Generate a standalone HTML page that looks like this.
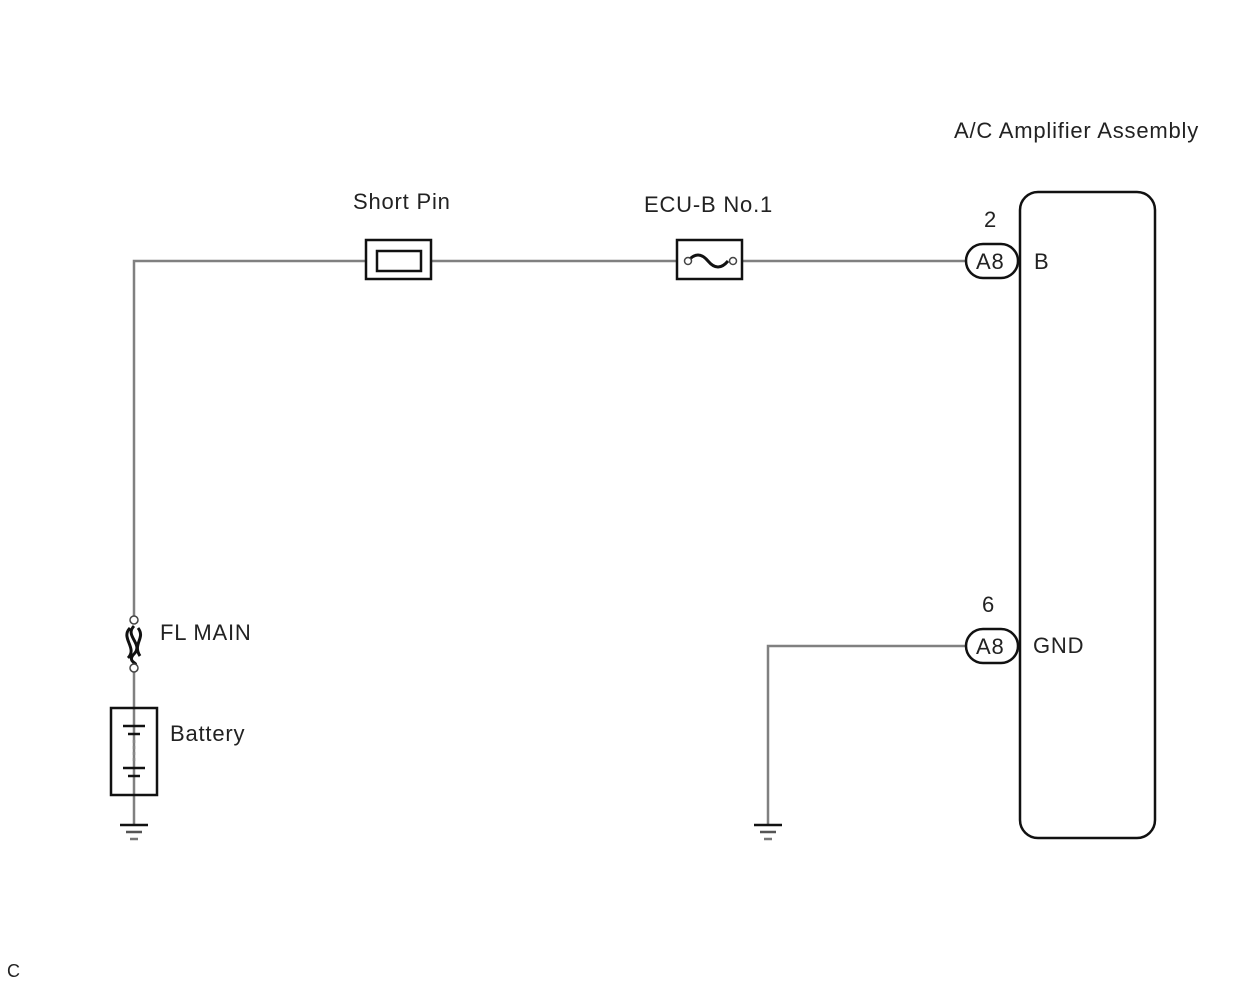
<!DOCTYPE html>
<html><head><meta charset="utf-8"><style>
html,body{margin:0;padding:0;background:#fff;}
svg{display:block;}
text{font-family:"Liberation Sans",sans-serif;fill:#222;font-size:22px;letter-spacing:0.8px;}
</style></head><body>
<svg width="1250" height="984" viewBox="0 0 1250 984" xmlns="http://www.w3.org/2000/svg">
<g stroke="#808080" stroke-width="2.5" fill="none">
<polyline points="134,616 134,261 366,261"/>
<line x1="431" y1="261" x2="677" y2="261"/>
<line x1="742" y1="261" x2="966" y2="261"/>
<polyline points="966,646 768,646 768,825"/>
<line x1="134" y1="672" x2="134" y2="825"/>
</g>
<g stroke="#111" stroke-width="2.5" fill="none">
<rect x="366" y="240" width="65" height="39"/>
<rect x="377" y="251" width="44" height="20"/>
<rect x="677" y="240" width="65" height="39"/>
<path d="M688,261 q10,-12 20,0 q10,12 20,0" stroke-width="3"/>
<rect x="1020" y="192" width="135" height="646" rx="18"/>
<rect x="966" y="244" width="52" height="34" rx="17"/>
<rect x="966" y="629" width="52" height="34" rx="17"/>
<rect x="111" y="708" width="46" height="87"/>
<path d="M134,626 c-10,10 10,18 0,28 c-8,8 6,10 0,10 M130,628 c-10,10 8,20 -2,30 M138,628 c8,10 -6,16 2,28" stroke-width="3"/>
</g>
<g stroke="#444" stroke-width="1.5" fill="#fff">
<circle cx="134" cy="620" r="4"/><circle cx="134" cy="668" r="4"/>
<circle cx="688" cy="261" r="3.5"/><circle cx="733" cy="261" r="3.5"/>
</g>
<g stroke="#111" stroke-width="2.5">
<line x1="123" y1="726" x2="145" y2="726"/><line x1="128" y1="734" x2="140" y2="734"/>
<line x1="123" y1="768" x2="145" y2="768"/><line x1="128" y1="776" x2="140" y2="776"/>
<line x1="134" y1="740" x2="134" y2="762" stroke="#888" stroke-dasharray="3,3"/>
<line x1="120" y1="825" x2="148" y2="825"/><line x1="126" y1="832" x2="142" y2="832" stroke="#555"/><line x1="130" y1="839" x2="138" y2="839" stroke="#777"/>
<line x1="754" y1="825" x2="782" y2="825"/><line x1="760" y1="832" x2="776" y2="832" stroke="#555"/><line x1="764" y1="839" x2="772" y2="839" stroke="#777"/>
</g>
<text x="954" y="138">A/C Amplifier Assembly</text>
<text x="353" y="209">Short Pin</text>
<text x="644" y="212">ECU-B No.1</text>
<text x="984" y="227">2</text>
<text x="976" y="269">A8</text>
<text x="1034" y="269">B</text>
<text x="982" y="612">6</text>
<text x="976" y="654">A8</text>
<text x="1033" y="653">GND</text>
<text x="160" y="640">FL MAIN</text>
<text x="170" y="741">Battery</text>
<text x="7" y="977" style="font-size:18px">C</text>
</svg>
</body></html>
